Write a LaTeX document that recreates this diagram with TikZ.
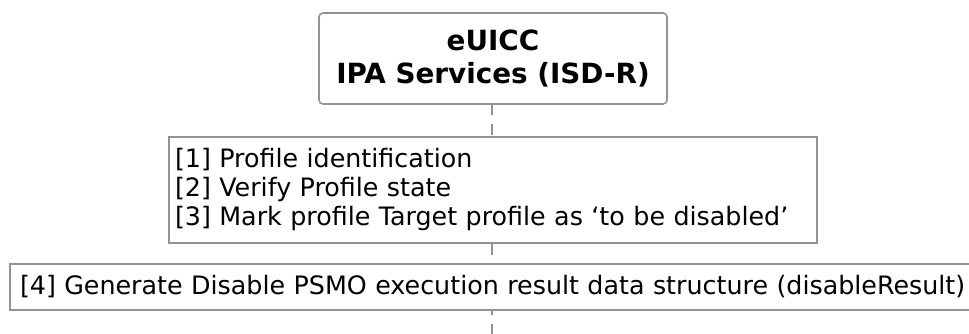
\documentclass[tikz,border=0pt]{standalone}
\usepackage{fontspec}
\setmainfont{DejaVu Sans}
\definecolor{boxgray}{HTML}{939393}
\begin{document}
\begin{tikzpicture}[x=1pt,y=-1pt,
  boxbase/.style={draw=boxgray, line width=1.6pt, fill=white, inner ysep=0pt, outer sep=0pt},
  partbox/.style={boxbase, rounded corners=4pt, align=center, inner xsep=0pt,
    font=\fontsize{27.8}{33}\selectfont\bfseries},
  notebox/.style={boxbase, align=left, font=\fontsize{25.35}{29}\selectfont},
  lifeline/.style={draw=boxgray, line width=1.6pt, dash pattern=on 11pt off 9pt}]
\useasboundingbox (0,0) rectangle (969,334);
\begin{scope}
\clip (0,0) rectangle (969,334);
\fill[white] (0,0) rectangle (969,334);
\node[partbox, anchor=north west, minimum width=348pt, minimum height=91pt] (part) at (319,13) {eUICC\\IPA Services (ISD-R)};
\coordinate (lifeend) at (492,334);
\draw[lifeline] (part.south -| lifeend) -- (lifeend);
\node[notebox, anchor=north west, minimum width=648pt, minimum height=106pt, text width=636pt, inner xsep=6pt] (steps) at (169,137)
  {{[1]} Profile identification\\{[2]} Verify Profile state\\{[3]} Mark profile Target profile as ‘to be disabled’};
\node[notebox, anchor=north west, minimum width=1100pt, minimum height=46pt, text width=1080pt, inner xsep=10pt] (result) at (10,264)
  {[4] Generate Disable PSMO execution result data structure (disableResult)};
\end{scope}
\end{tikzpicture}
\end{document}
